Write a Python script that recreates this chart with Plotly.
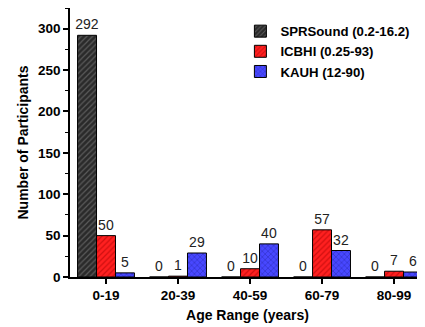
import plotly.graph_objects as go

categories = ["0-19", "20-39", "40-59", "60-79", "80-99"]
spr = [292, 0, 0, 0, 0]
icbhi = [50, 1, 10, 57, 7]
kauh = [5, 29, 40, 32, 6]
names = ["SPRSound (0.2-16.2)", "ICBHI (0.25-93)", "KAUH (12-90)"]
yticks = [0, 50, 100, 150, 200, 250, 300]

FONT = "Liberation Sans, Arial, sans-serif"

styles = [
    dict(color="#2a2a2a", shape="/", fg="#8a8a8a"),
    dict(color="#ff2020", shape="/", fg="#a00000"),
    dict(color="#4848ff", shape="x", fg="#1a1a90"),
]

fig = go.Figure()
for vals, name, st in zip([spr, icbhi, kauh], names, styles):
    fig.add_trace(go.Bar(
        x=categories, y=vals, name=name,
        text=[str(v) for v in vals], textposition="outside",
        textfont=dict(family=FONT, size=14, color="#222"),
        constraintext="none",
        cliponaxis=False,
        marker=dict(color=st["color"], line=dict(color="black", width=1),
                    pattern=dict(shape=st["shape"], fgcolor=st["fg"], size=4, solidity=0.3)),
    ))

fig.update_layout(
    width=417, height=319,
    margin=dict(l=62, r=0, t=0, b=50, autoexpand=False),
    plot_bgcolor="white", paper_bgcolor="white",
    barmode="group", bargap=0.21, bargroupgap=0,
    font=dict(family=FONT, color="black"),
    showlegend=True,
    legend=dict(x=0.48, y=0.97, xanchor="left", yanchor="top",
                font=dict(family=FONT, size=13.2, weight="bold", color="black"),
                bgcolor="rgba(0,0,0,0)", tracegroupgap=0, itemwidth=30),
)
fig.update_xaxes(
    range=[-0.5, 4.43], showline=True, linecolor="black", linewidth=1.5,
    ticks="outside", ticklen=5, tickwidth=1.5, tickcolor="black",
    tickfont=dict(family=FONT, size=13.5, weight="bold"),
    minor=dict(ticks="outside", ticklen=3, tickwidth=1, tickcolor="black", showgrid=False),
    showgrid=False, zeroline=False, automargin=False,
    title=dict(text="Age Range (years)", font=dict(family=FONT, size=14, weight="bold"), standoff=8),
)
fig.update_yaxes(
    range=[0, 325], tickvals=yticks, showline=True, linecolor="black", linewidth=1.5,
    ticks="outside", ticklen=5, tickwidth=1.5, tickcolor="black",
    tickfont=dict(family=FONT, size=13.5, weight="bold"),
    minor=dict(tick0=25, dtick=50, ticks="outside", ticklen=3, tickwidth=1, tickcolor="black", showgrid=False),
    showgrid=False, zeroline=False, automargin=False,
    title=dict(text="Number of Participants", font=dict(family=FONT, size=14, weight="bold"), standoff=6),
)

fig.write_html("out.html")
